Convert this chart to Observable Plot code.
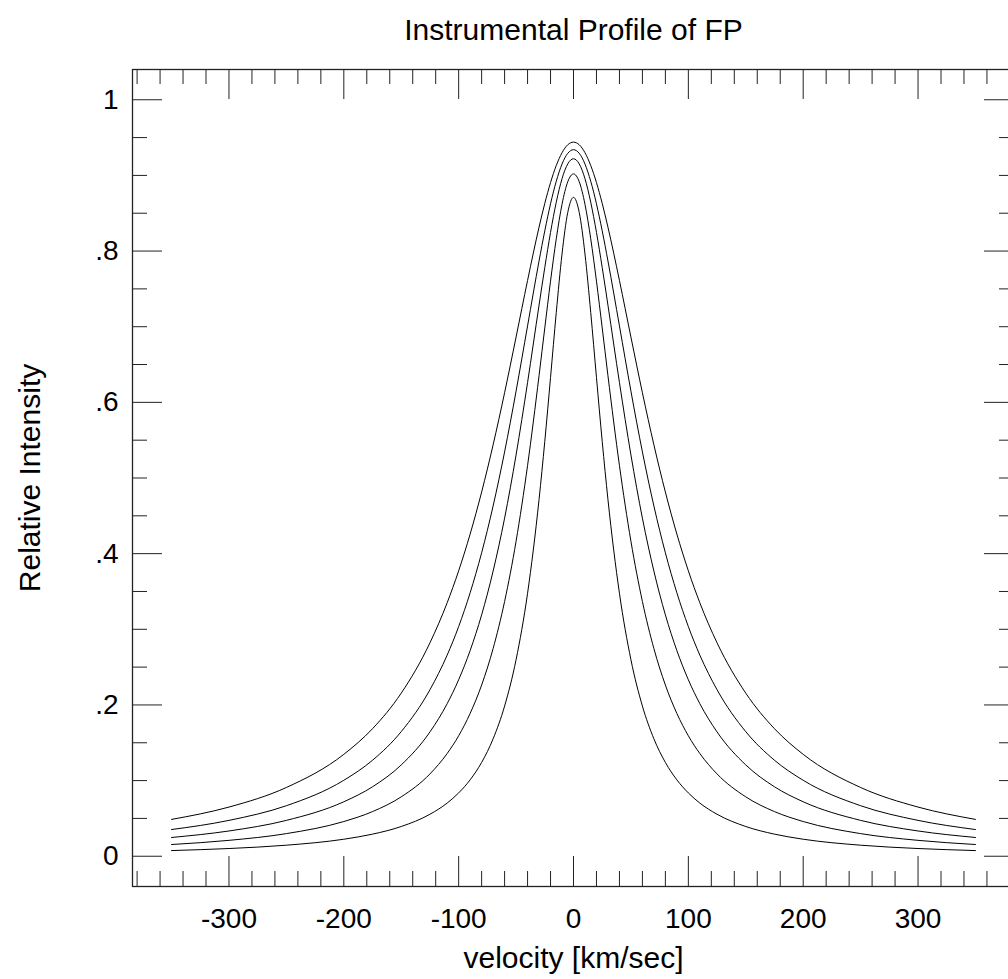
<!DOCTYPE html>
<html>
<head>
<meta charset="utf-8">
<script src="https://cdn.jsdelivr.net/npm/d3@7"></script>
<script src="https://cdn.jsdelivr.net/npm/@observablehq/plot@0.6"></script>
<style>
  html, body { margin: 0; padding: 0; background: #fff; overflow: hidden; }
  #chart svg { font-family: "Liberation Sans", Arial, Helvetica, sans-serif; }
</style>
</head>
<body>
<div id="chart"></div>
<script>
// ---- Data (profiles are symmetric about 0 km/s) ----
const velocity = [0, 5, 10, 15, 20, 25, 30, 40, 50, 60, 70, 80, 90, 100, 110, 125, 150, 175, 200, 250, 300, 350];
const profile1 = [0.944, 0.9405, 0.930, 0.9131, 0.8905, 0.8630, 0.8316, 0.7611, 0.6863, 0.6127, 0.5438, 0.4814, 0.4259, 0.3773, 0.3351, 0.2821, 0.2156, 0.1686, 0.1347, 0.0909, 0.0650, 0.0487];
const profile2 = [0.934, 0.9292, 0.9150, 0.8923, 0.8624, 0.8267, 0.7869, 0.7011, 0.6148, 0.5345, 0.4630, 0.4011, 0.3483, 0.3036, 0.2659, 0.2201, 0.1647, 0.1269, 0.1004, 0.0668, 0.0474, 0.0353];
const profile3 = [0.922, 0.9152, 0.8956, 0.8646, 0.8246, 0.7783, 0.7285, 0.6262, 0.5305, 0.4469, 0.3769, 0.3191, 0.2719, 0.2333, 0.2017, 0.1643, 0.1207, 0.0918, 0.0720, 0.0474, 0.0334, 0.0248];
const profile4 = [0.902, 0.8916, 0.8618, 0.8163, 0.7602, 0.6984, 0.6353, 0.5165, 0.4164, 0.3367, 0.2745, 0.2263, 0.1888, 0.1592, 0.1358, 0.1088, 0.0785, 0.0590, 0.0459, 0.0299, 0.0210, 0.0155];
const profile5 = [0.871, 0.8510, 0.7961, 0.7188, 0.6328, 0.5484, 0.4716, 0.3476, 0.2598, 0.1985, 0.1552, 0.1240, 0.1010, 0.0837, 0.0703, 0.0555, 0.0393, 0.0292, 0.0225, 0.0146, 0.0102, 0.0075];

const xTickValues = [-300, -200, -100, 0, 100, 200, 300];
const yTickValues = [0, 0.2, 0.4, 0.6, 0.8, 1];
const yTickLabels = ["0", ".2", ".4", ".6", ".8", "1"];

const titleText = "Instrumental Profile of FP";
const xLabel = "velocity [km/sec]";
const yLabel = "Relative Intensity";

// ---- Build table ----
const profiles = [profile1, profile2, profile3, profile4, profile5];
const rows = [];
profiles.forEach((p, k) => {
  const half = velocity.map((v, i) => ({v, y: p[i]}));
  const left = half.slice(1).reverse().map(d => ({v: -d.v, y: d.y}));
  for (const d of [...left, ...half]) rows.push({series: k, v: d.v, y: d.y});
});

const xMinor = d3.range(-380, 381, 20).filter(d => d % 100 !== 0);
const yMinor = d3.range(0.05, 1.0, 0.05).map(d => +d.toFixed(2)).filter(d => Math.abs(d / 0.2 - Math.round(d / 0.2)) > 1e-6);

const W = 1008, H = 979;
const mL = 132, mR = -6, mT = 69, mB = 93;
const frameW = W - mR - mL, frameH = H - mB - mT;
const major = 30, minor = 15;
const tickStroke = "#222";
const font = 28;
const labelFont = 30;

const chart = Plot.plot({
  width: W,
  height: H,
  marginLeft: mL,
  marginRight: mR,
  marginTop: mT,
  marginBottom: mB,
  style: {fontFamily: '"Liberation Sans", Arial, Helvetica, sans-serif', fontSize: font + "px", color: "#000", background: "#fff"},
  x: {domain: [-384, 384]},
  y: {domain: [-0.04, 1.04]},
  marks: [
    Plot.frame({stroke: "#222", strokeWidth: 1.3}),
    // x ticks bottom & top
    Plot.tickX(xTickValues, {x: d => d, insetTop: frameH - major, stroke: tickStroke}),
    Plot.tickX(xTickValues, {x: d => d, insetBottom: frameH - major, stroke: tickStroke}),
    Plot.tickX(xMinor, {x: d => d, insetTop: frameH - minor, stroke: tickStroke}),
    Plot.tickX(xMinor, {x: d => d, insetBottom: frameH - minor, stroke: tickStroke}),
    // y ticks left & right
    Plot.tickY(yTickValues, {y: d => d, insetRight: frameW - major, stroke: tickStroke}),
    Plot.tickY(yTickValues, {y: d => d, insetLeft: frameW - major, stroke: tickStroke}),
    Plot.tickY(yMinor, {y: d => d, insetRight: frameW - minor, stroke: tickStroke}),
    Plot.tickY(yMinor, {y: d => d, insetLeft: frameW - minor, stroke: tickStroke}),
    // tick labels
    Plot.axisX({ticks: xTickValues, tickSize: 0, tickPadding: 22, fontSize: font, label: null, tickFormat: d => String(d)}),
    Plot.axisY({ticks: yTickValues, tickSize: 0, tickPadding: 14, fontSize: font, label: null,
      tickFormat: d => yTickLabels[yTickValues.indexOf(d)]}),
    // profiles
    Plot.line(rows, {x: "v", y: "y", z: "series", stroke: "#000", strokeWidth: 1, curve: "monotone-x"}),
    // titles
    Plot.text([titleText], {frameAnchor: "top", dy: -39, fontSize: labelFont, lineAnchor: "middle", textAnchor: "middle", fill: "#000"}),
    Plot.text([xLabel], {frameAnchor: "bottom", dy: 72, fontSize: labelFont, lineAnchor: "middle", textAnchor: "middle", fill: "#000"}),
    Plot.text([yLabel], {frameAnchor: "left", dx: -102, rotate: -90, fontSize: labelFont, lineAnchor: "middle", textAnchor: "middle", fill: "#000"})
  ]
});
document.getElementById("chart").appendChild(chart);
</script>
</body>
</html>
